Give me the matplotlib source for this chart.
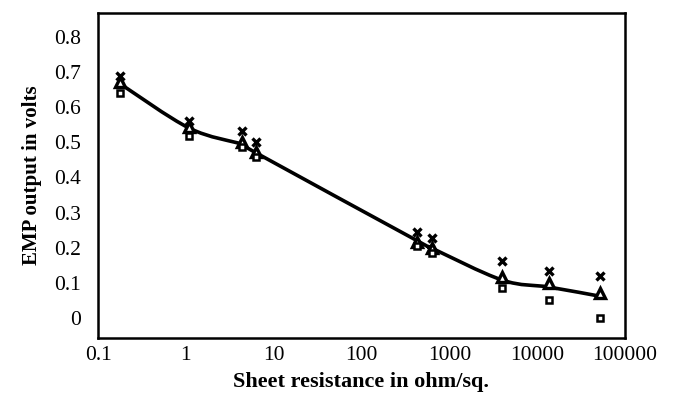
import matplotlib
matplotlib.use("Agg")
import matplotlib.pyplot as plt
from matplotlib.path import Path
from matplotlib.patches import PathPatch
import numpy as np

# data
resistance = [0.18, 1.1, 4.4, 6.3, 430, 630, 4000, 13700, 52000]
emp_cross = [0.689, 0.561, 0.532, 0.501, 0.245, 0.228, 0.162, 0.134, 0.120]
emp_triangle = [0.672, 0.544, 0.501, 0.473, 0.216, 0.199, 0.117, 0.100, 0.071]
emp_square = [0.641, 0.518, 0.487, 0.458, 0.205, 0.185, 0.085, 0.051, 0.000]
emp_line = [0.666, 0.540, 0.494, 0.470, 0.220, 0.199, 0.108, 0.088, 0.062]

yticks = [0, 0.1, 0.2, 0.3, 0.4, 0.5, 0.6, 0.7, 0.8]
ytick_labels = ["0", "0.1", "0.2", "0.3", "0.4", "0.5", "0.6", "0.7", "0.8"]
xticks = [0.1, 1, 10, 100, 1000, 10000, 100000]
xtick_labels = ["0.1", "1", "10", "100", "1000", "10000", "100000"]

plt.rcParams['font.family'] = ['Liberation Serif', 'DejaVu Serif']

fig = plt.figure(figsize=(6.82, 3.94), dpi=100)
ax = fig.add_axes([0.1437, 0.142, 0.9164 - 0.1437, 0.967 - 0.142])
ax.set_xscale("log")
ax.set_xlim(0.1, 100000)
ax.set_ylim(-0.057, 0.868)


# smoothed line (Excel-like) built as bezier path in log-x space
def smooth_path(xs, ys):
    lx = np.log10(xs)
    ys = np.asarray(ys, dtype=float)
    n = len(lx)
    verts = [(lx[0], ys[0])]
    codes = [Path.MOVETO]
    for i in range(n - 1):
        p0 = (lx[max(i - 1, 0)], ys[max(i - 1, 0)])
        p1 = (lx[i], ys[i])
        p2 = (lx[i + 1], ys[i + 1])
        p3 = (lx[min(i + 2, n - 1)], ys[min(i + 2, n - 1)])
        c1 = (p1[0] + (p2[0] - p0[0]) / 6, p1[1] + (p2[1] - p0[1]) / 6)
        c2 = (p2[0] - (p3[0] - p1[0]) / 6, p2[1] - (p3[1] - p1[1]) / 6)
        verts += [c1, c2, p2]
        codes += [Path.CURVE4] * 3
    verts = [(10 ** vx, vy) for vx, vy in verts]
    return Path(verts, codes)


patch = PathPatch(smooth_path(resistance, emp_line), facecolor="none",
                  edgecolor="black", lw=2.6, zorder=2)
ax.add_patch(patch)

ax.plot(resistance, emp_cross, linestyle="none", marker="x", color="black",
        markersize=5.5, markeredgewidth=2.4, zorder=3)
ax.plot(resistance, emp_triangle, linestyle="none", marker="^", color="black",
        markerfacecolor="white", markersize=6.5, markeredgewidth=2.4, zorder=3)
ax.plot(resistance, emp_square, linestyle="none", marker="s", color="black",
        markerfacecolor="white", markersize=4.5, markeredgewidth=1.8, zorder=3)

ax.set_xticks(xticks)
ax.set_xticklabels(xtick_labels)
ax.xaxis.set_minor_locator(matplotlib.ticker.NullLocator())
ax.set_yticks(yticks)
ax.set_yticklabels(ytick_labels)
ax.tick_params(axis="both", length=0, labelsize=15.5)
ax.tick_params(axis="y", pad=12)
ax.tick_params(axis="x", pad=6)

for s in ax.spines.values():
    s.set_linewidth(1.8)

ax.set_xlabel("Sheet resistance in ohm/sq.", fontsize=16, fontweight="bold",
              labelpad=5)
ax.set_ylabel("EMP output in volts", fontsize=15, fontweight="bold",
              labelpad=9)

fig.savefig("out.png", dpi=100, facecolor="white")
